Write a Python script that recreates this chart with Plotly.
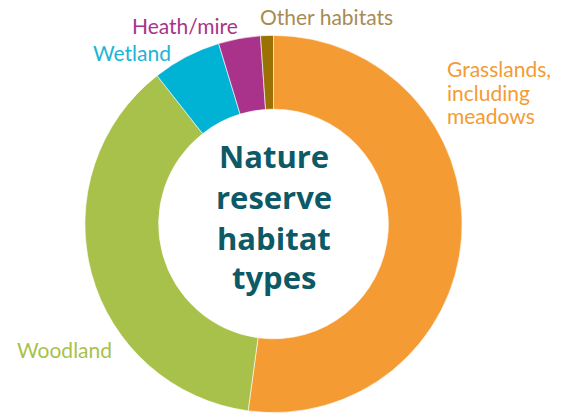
import plotly.graph_objects as go

categories = ["Grasslands, including meadows", "Woodland", "Wetland", "Heath/mire", "Other habitats"]
values = [52.2, 37.3, 5.9, 3.6, 1.1]
slice_colors = ["#F49B33", "#A8C14B", "#00B2D4", "#A9338A", "#9A7203"]

label_texts = ["Grasslands,<br>including<br>meadows", "Woodland", "Wetland", "Heath/mire", "Other habitats"]
label_colors = ["#F49B33", "#A8C14B", "#1AB5D6", "#A9338A", "#A88B52"]
center_lines = ["Nature", "reserve", "habitat", "types"]

W, H = 569, 414
cx, cy, R = 273.5, 224.0, 188.6

fig = go.Figure(go.Pie(
    labels=categories,
    values=values,
    sort=False,
    direction="clockwise",
    rotation=0,
    hole=0.609,
    marker=dict(colors=slice_colors, line=dict(color="white", width=0.6)),
    textinfo="none",
    hoverinfo="label+percent",
    showlegend=False,
    domain=dict(x=[(cx - R) / W, (cx + R) / W], y=[(H - cy - R) / H, (H - cy + R) / H]),
))

label_font = "Lato, 'Open Sans', sans-serif"
center_font = "'Open Sans', Lato, sans-serif"
# label positions (pixels, left edge / vertical centre of first line)
label_pos = [(445, 69), (15, 349), (91, 52), (130, 25), (258, 17)]
line_step = 23.4
annotations = []
for txt, col, (px, py) in zip(label_texts, label_colors, label_pos):
    for i, part in enumerate(txt.split("<br>")):
        annotations.append(dict(
            text=part, x=px / W, y=1 - (py + i * line_step) / H, xref="paper", yref="paper",
            xanchor="left", yanchor="middle", showarrow=False, align="left",
            font=dict(family=label_font, size=21, color=col),
        ))

center_y = [156, 197, 238, 277]
for line, py in zip(center_lines, center_y):
    annotations.append(dict(
        text="<b>" + line + "</b>", x=cx / W, y=1 - py / H, xref="paper", yref="paper",
        xanchor="center", yanchor="middle", showarrow=False,
        font=dict(family=center_font, size=31, color="#0D5966"),
    ))

fig.update_layout(
    width=W, height=H,
    margin=dict(l=0, r=0, t=0, b=0),
    paper_bgcolor="white", plot_bgcolor="white",
    annotations=annotations,
)

fig.write_html("out.html", config={"displayModeBar": False},
               post_script="document.body.style.margin='0';")
